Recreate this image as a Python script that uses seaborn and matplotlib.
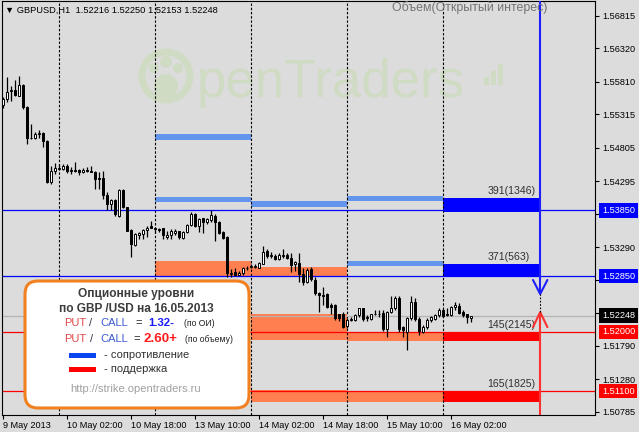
import numpy as np
import pandas as pd
import matplotlib
matplotlib.use("Agg")
import matplotlib.pyplot as plt
import seaborn as sns
from matplotlib.patches import FancyBboxPatch, Rectangle, Circle
from matplotlib.transforms import IdentityTransform, blended_transform_factory

# ---------------- data (GBPUSD H1, bar 0 = 9 May 2013 10:00) ----------------
opens = [1.5545, 1.5555, 1.5567, 1.5568, 1.5560, 1.5576, 1.5543, 1.5496, 1.5495, 1.5501,
         1.5503, 1.5491, 1.5428, 1.5445, 1.5448, 1.5448, 1.5453, 1.5447, 1.5446, 1.5446,
         1.5444, 1.5446, 1.5445, 1.5444, 1.5435, 1.5434, 1.5408, 1.5395, 1.5401, 1.5377,
         1.5416, 1.5390, 1.5355, 1.5332, 1.5347, 1.5349, 1.5355, 1.5361, 1.5358, 1.5357,
         1.5358, 1.5345, 1.5347, 1.5351, 1.5353, 1.5343, 1.5352, 1.5363, 1.5379, 1.5361,
         1.5373, 1.5367, 1.5371, 1.5377, 1.5368, 1.5352, 1.5345, 1.5288, 1.5292, 1.5287,
         1.5290, 1.5297, 1.5299, 1.5299, 1.5298, 1.5304, 1.5323, 1.5315, 1.5316, 1.5311,
         1.5316, 1.5317, 1.5313, 1.5304, 1.5305, 1.5288, 1.5276, 1.5296, 1.5279, 1.5260,
         1.5256, 1.5257, 1.5241, 1.5241, 1.5227, 1.5227, 1.5209, 1.5218, 1.5218, 1.5226,
         1.5236, 1.5223, 1.5219, 1.5227, 1.5228, 1.5229, 1.5204, 1.5231, 1.5236, 1.5252,
         1.5208, 1.5200, 1.5221, 1.5245, 1.5219, 1.5200, 1.5207, 1.5218, 1.5219, 1.5226,
         1.5233, 1.5227, 1.5226, 1.5238, 1.5240, 1.5231, 1.5227, 1.52216]
highs = [1.5557, 1.5588, 1.5575, 1.5583, 1.5589, 1.5577, 1.5544, 1.5517, 1.5504, 1.5508,
         1.5504, 1.5492, 1.5453, 1.5457, 1.5456, 1.5456, 1.5455, 1.5451, 1.5458, 1.5448,
         1.5449, 1.5451, 1.5452, 1.5445, 1.5443, 1.5445, 1.5413, 1.5402, 1.5402, 1.5418,
         1.5418, 1.5390, 1.5357, 1.5351, 1.5352, 1.5356, 1.5362, 1.5369, 1.5359, 1.5358,
         1.5359, 1.5354, 1.5356, 1.5356, 1.5354, 1.5354, 1.5364, 1.5383, 1.5381, 1.5373,
         1.5374, 1.5374, 1.5385, 1.5379, 1.5369, 1.5354, 1.5346, 1.5296, 1.5298, 1.5293,
         1.5299, 1.5300, 1.5303, 1.5303, 1.5306, 1.5331, 1.5326, 1.5321, 1.5318, 1.5320,
         1.5326, 1.5320, 1.5320, 1.5308, 1.5320, 1.5297, 1.5298, 1.5299, 1.5284, 1.5261,
         1.5269, 1.5259, 1.5244, 1.5242, 1.5228, 1.5230, 1.5221, 1.5223, 1.5227, 1.5237,
         1.5237, 1.5226, 1.5228, 1.5233, 1.5234, 1.5234, 1.5232, 1.5255, 1.5255, 1.5254,
         1.5209, 1.5222, 1.5254, 1.5251, 1.5222, 1.5210, 1.5221, 1.5225, 1.5227, 1.5237,
         1.5235, 1.5236, 1.5239, 1.5246, 1.5244, 1.5233, 1.5228, 1.52250]
lows = [1.5541, 1.5550, 1.5552, 1.5560, 1.5559, 1.5540, 1.5486, 1.5494, 1.5494, 1.5496,
        1.5481, 1.5427, 1.5425, 1.5441, 1.5446, 1.5446, 1.5442, 1.5441, 1.5443, 1.5439,
        1.5442, 1.5443, 1.5443, 1.5418, 1.5417, 1.5402, 1.5385, 1.5385, 1.5377, 1.5375,
        1.5388, 1.5353, 1.5314, 1.5331, 1.5341, 1.5342, 1.5344, 1.5358, 1.5351, 1.5352,
        1.5341, 1.5341, 1.5341, 1.5348, 1.5342, 1.5341, 1.5351, 1.5362, 1.5360, 1.5352,
        1.5350, 1.5364, 1.5367, 1.5338, 1.5349, 1.5341, 1.5283, 1.5283, 1.5285, 1.5286,
        1.5287, 1.5294, 1.5297, 1.5298, 1.5297, 1.5303, 1.5313, 1.5312, 1.5309, 1.5310,
        1.5313, 1.5311, 1.5292, 1.5293, 1.5276, 1.5272, 1.5274, 1.5278, 1.5256, 1.5231,
        1.5241, 1.5236, 1.5228, 1.5218, 1.5217, 1.5206, 1.5206, 1.5217, 1.5217, 1.5223,
        1.5217, 1.5217, 1.5218, 1.5226, 1.5223, 1.5202, 1.5193, 1.5229, 1.5233, 1.5200,
        1.5193, 1.5172, 1.5218, 1.5217, 1.5195, 1.5198, 1.5205, 1.5215, 1.5218, 1.5223,
        1.5222, 1.5224, 1.5224, 1.5233, 1.5228, 1.5223, 1.5214, 1.52153]
closes = [1.5554, 1.5566, 1.5568, 1.5561, 1.5576, 1.5542, 1.5495, 1.5495, 1.5501, 1.5503,
          1.5490, 1.5428, 1.5445, 1.5450, 1.5449, 1.5453, 1.5445, 1.5445, 1.5445, 1.5443,
          1.5447, 1.5445, 1.5444, 1.5433, 1.5433, 1.5408, 1.5395, 1.5401, 1.5379, 1.5416,
          1.5390, 1.5354, 1.5334, 1.5349, 1.5350, 1.5355, 1.5359, 1.5359, 1.5356, 1.5355,
          1.5347, 1.5347, 1.5354, 1.5354, 1.5344, 1.5352, 1.5363, 1.5379, 1.5362, 1.5372,
          1.5367, 1.5372, 1.5378, 1.5368, 1.5351, 1.5343, 1.5290, 1.5290, 1.5287, 1.5290,
          1.5297, 1.5298, 1.5301, 1.5301, 1.5305, 1.5322, 1.5315, 1.5317, 1.5311, 1.5317,
          1.5317, 1.5312, 1.5302, 1.5306, 1.5288, 1.5276, 1.5294, 1.5280, 1.5259, 1.5256,
          1.5255, 1.5238, 1.5238, 1.5221, 1.5221, 1.5208, 1.5218, 1.5219, 1.5226, 1.5236,
          1.5219, 1.5221, 1.5227, 1.5228, 1.5227, 1.5204, 1.5231, 1.5237, 1.5252, 1.5204,
          1.5203, 1.5221, 1.5245, 1.5220, 1.5201, 1.5208, 1.5218, 1.5223, 1.5226, 1.5233,
          1.5224, 1.5226, 1.5238, 1.5241, 1.5229, 1.5226, 1.5223, 1.52248]

tick_bars = [0, 16, 32, 48, 64, 80, 96, 112]
tick_labels = ["9 May 2013", "10 May 02:00", "10 May 18:00", "13 May 10:00",
               "14 May 02:00", "14 May 18:00", "15 May 10:00", "16 May 02:00"]
day_separators = [14, 38, 62, 86, 110]
day_len = 24

price_ticks = [1.56815, 1.56320, 1.55810, 1.55315, 1.54805, 1.54295, 1.53790,
               1.53290, 1.52795, 1.52285, 1.51790, 1.51280, 1.50785]
hidden_ticks = [1.53790, 1.52795, 1.52285]  # covered by the value tags

# past option levels (per day)
res_start = [38, 38, 62, 86, 86]
res_low = [1.5492, 1.5398, 1.5390, 1.5399, 1.5301]
res_high = [1.5501, 1.5405, 1.5399, 1.5407, 1.5308]
sup_start = [38, 62, 62, 62, 86, 86]
sup_low = [1.5285, 1.5285, 1.5188, 1.5093, 1.5186, 1.5093]
sup_high = [1.5308, 1.5299, 1.5227, 1.5111, 1.5198, 1.5110]

# current day (16 May) levels
now_start, now_end = 110, 134.2
now_res_low = [1.5383, 1.5284]
now_res_high = [1.5404, 1.5303]
now_res_text = ["391(1346)", "371(563)"]
now_sup_low = [1.5186, 1.5093]
now_sup_high = [1.5200, 1.5110]
now_sup_text = ["145(2145)", "165(1825)"]

res_lines = [1.53850, 1.52850]
sup_lines = [1.52000, 1.51100]
bid = 1.52248
arrow_res_tip, arrow_res_arm = 1.52577, 1.52791
arrow_sup_tip, arrow_sup_arm = 1.52302, 1.52073

# ---------------- style ----------------
BG = "#dcdcdc"
sns.set_theme(style="white", rc={"axes.facecolor": BG, "figure.facecolor": BG})
plt.rcParams["font.family"] = ["Liberation Sans", "DejaVu Sans"]

W, H = 639, 432
fig = plt.figure(figsize=(W / 100, H / 100), dpi=100)
ax = fig.add_axes([2 / W, 17 / H, 593 / W, 414 / H])
ax.set_facecolor(BG)
YMIN, YMAX = 1.50735, 1.57039
ax.set_xlim(-0.33, 147.9)
ax.set_ylim(YMIN, YMAX)

# ---------------- watermark ----------------
WM = "#cfdbc3"
ident = IdentityTransform()
ax.add_patch(Circle((166, H - 76), 24, fill=False, ec=WM, lw=5, transform=ident, zorder=0.3))
for cx, cy, r in [(154, 68, 5), (166, 62, 6), (178, 68, 5)]:
    ax.add_patch(Circle((cx, H - cy), r, fc=WM, ec="none", transform=ident, zorder=0.3))
ax.add_patch(Circle((166, H - 86), 12, fc=WM, ec="none", transform=ident, zorder=0.3))
ax.text(197, H - 97, "penTraders", transform=ident, fontsize=38, color=WM,
        va="baseline", ha="left", zorder=0.3)
for bx, bh in [(484, 8), (491, 14), (498, 21)]:
    ax.add_patch(Rectangle((bx, H - 85), 5, bh, fc=WM, ec="none", transform=ident, zorder=0.3))

# ---------------- option level rectangles ----------------
ax.bar(res_start, np.array(res_high) - np.array(res_low), bottom=res_low, width=day_len,
       align="edge", color="#6495ed", linewidth=0, zorder=1)
ax.bar(sup_start, np.array(sup_high) - np.array(sup_low), bottom=sup_low, width=day_len,
       align="edge", color="#ff7f50", linewidth=0, zorder=1)
ax.bar([now_start] * 2, np.array(now_res_high) - np.array(now_res_low), bottom=now_res_low,
       width=now_end - now_start, align="edge", color="#0000ff", linewidth=0, zorder=1)
ax.bar([now_start] * 2, np.array(now_sup_high) - np.array(now_sup_low), bottom=now_sup_low,
       width=now_end - now_start, align="edge", color="#ff0000", linewidth=0, zorder=1)
for top, txt in zip(now_res_high + now_sup_high, now_res_text + now_sup_text):
    ax.annotate(txt, xy=(121, top), xytext=(0, 1.5), textcoords="offset points",
                ha="left", va="bottom", fontsize=7.6, color="#303030", zorder=6)

# separators
ax.vlines(day_separators, YMIN, YMAX, colors="black", linestyles=(0, (2.2, 1.6)),
          linewidth=0.8, zorder=2)

# horizontal levels
for y in res_lines:
    ax.axhline(y, color="#0000ff", lw=0.9, zorder=2.5)
for y in sup_lines:
    ax.axhline(y, color="#ff0000", lw=0.9, zorder=2.5)
ax.axhline(bid, color="#b4b4b4", lw=0.9, zorder=2.4)

# ---------------- candles ----------------
df = pd.DataFrame(dict(open=opens, high=highs, low=lows, close=closes))
df["bar"] = np.arange(len(df))
bull = df["close"] >= df["open"]
body_lo = np.minimum(df["open"], df["close"])
body_h = np.maximum((df["close"] - df["open"]).abs(), 0.00003)
ax.vlines(df["bar"], df["low"], df["high"], colors="black", linewidth=0.9, zorder=4)
ax.bar(df["bar"], body_h, bottom=body_lo, width=0.55,
       color=np.where(bull, "white", "black"), edgecolor="black", linewidth=0.7, zorder=5)

# ---------------- arrows ----------------
xa, dx = now_end, 1.8
ax.plot([xa, xa], [YMAX, arrow_res_tip + 0.0001], color="#1e1eff", lw=1.5, zorder=6,
        solid_capstyle="butt")
ax.plot([xa - dx, xa, xa + dx], [arrow_res_arm, arrow_res_tip, arrow_res_arm],
        color="#1e1eff", lw=1.5, zorder=6)
ax.plot([xa, xa], [YMIN, arrow_sup_tip - 0.0001], color="#ff3030", lw=1.5, zorder=6,
        solid_capstyle="butt")
ax.plot([xa - dx, xa, xa + dx], [arrow_sup_arm, arrow_sup_tip, arrow_sup_arm],
        color="#ff3030", lw=1.5, zorder=6)
ax.plot([xa, xa], [arrow_sup_tip, arrow_res_tip], color="black", lw=0.8,
        linestyle=(0, (1.5, 1.5)), zorder=6)

# ---------------- axes ----------------
for s in ax.spines.values():
    s.set_color("black")
    s.set_linewidth(0.8)
ax.yaxis.tick_right()
ax.set_yticks(price_ticks)
ax.set_yticklabels(["" if p in hidden_ticks else f"{p:.5f}" for p in price_ticks])
ax.tick_params(axis="y", direction="out", length=3, width=0.8, pad=2,
               labelsize=6.6, colors="black", right=True, left=False)
ax.set_xticks(tick_bars)
ax.set_xticklabels(tick_labels, ha="left")
ax.tick_params(axis="x", direction="out", length=3, width=0.8, pad=1.5,
               labelsize=6.6, colors="black", bottom=True)

tag_tr = blended_transform_factory(ax.transAxes, ax.transData)
for y, c in [(1.53850, "#0000ff"), (1.52850, "#0000ff"), (bid, "black"),
             (1.52000, "#ff0000"), (1.51100, "#ff0000")]:
    ax.text(1.0118, y, f"{y:.5f}", transform=tag_tr, ha="left", va="center",
            fontsize=6.6, color="white", clip_on=False, zorder=10,
            bbox=dict(boxstyle="square,pad=0.3", fc=c, ec="none"))

# header texts
fig.text(5, H - 10, "\u25bc GBPUSD,H1  1.52216 1.52250 1.52153 1.52248", transform=ident,
         fontsize=6.7, color="black", va="center", ha="left")
fig.text(547, H - 8, "Объем(Открытый интерес)", transform=ident, fontsize=8.9,
         color="#747474", va="center", ha="right")

# ---------------- info box ----------------
box = FancyBboxPatch((25, H - 408), 224, 127, boxstyle="round,pad=0,rounding_size=13",
                     transform=ident, fc="white", ec="#f08020", lw=2.2, zorder=20)
fig.add_artist(box)


def t(x, y, s, **kw):
    kw.setdefault("va", "center")
    kw.setdefault("ha", "left")
    fig.text(x, H - y, s, transform=ident, zorder=21, **kw)


t(136, 294, "Опционные уровни", ha="center", fontsize=8.6, fontweight="bold", color="#3c3c3c")
t(136, 309, "по GBP /USD на 16.05.2013", ha="center", fontsize=8.6, fontweight="bold",
  color="#3c3c3c")
for yy, xs, val, vcol, vsize, note in [
        (323, (64, 89, 100, 135, 148, 184), "1.32-", "#1a1aff", 8.2, "(по ОИ)"),
        (339, (64, 90, 100, 133, 144, 185), "2.60+", "#ff1a1a", 9.6, "(по объему)")]:
    t(xs[0], yy, "PUT", fontsize=8, color="#e04848")
    t(xs[1], yy, "/", fontsize=8, color="#303050")
    t(xs[2], yy, "CALL", fontsize=8, color="#3c5ad2")
    t(xs[3], yy, "=", fontsize=8, color="#202020")
    t(xs[4], yy, val, fontsize=vsize, fontweight="bold", color=vcol)
    t(xs[5], yy + 1, note, fontsize=6.2, color="#202020")
fig.add_artist(Rectangle((69, H - 358), 27, 5, transform=ident, fc="#0a46f0", ec="none", zorder=21))
fig.add_artist(Rectangle((69, H - 372), 27, 5, transform=ident, fc="#ff0000", ec="none", zorder=21))
t(104, 355, "- сопротивление", fontsize=8, color="#303030")
t(104, 369, "- поддержка", fontsize=8, color="#303030")
t(136, 389, "http://strike.opentraders.ru", ha="center", fontsize=8, color="#a0a0a0")

fig.savefig("out.png", dpi=100, facecolor=BG)
